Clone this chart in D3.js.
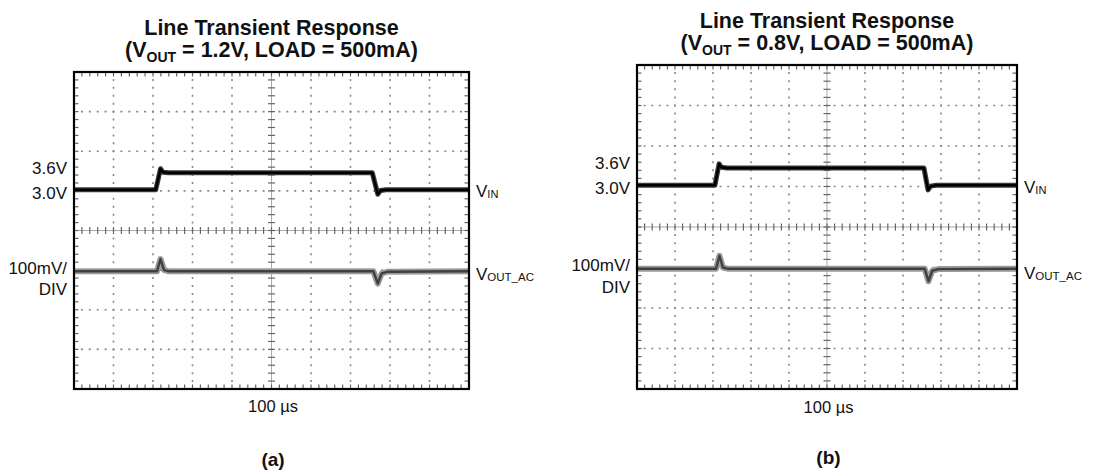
<!DOCTYPE html>
<html lang="en">
	<head>
		<meta charset="utf-8">
		<title>Line Transient Response</title>
		<script type="text/javascript" src="https://cdn.jsdelivr.net/npm/d3@7"></script>
		<style type="text/css">
			body { margin: 0; background: #fff; }
			text { font-family: "Liberation Sans", Arial, Helvetica, sans-serif; fill: #111; }
		</style>
	</head>
	<body>
		<script type="text/javascript">
			//Width and height
			var w = 1113;
			var h = 473;

			//Scope screen: 10 x 8 divisions, 100 us per division
			var timePerDiv = 100;
			var voutPerDiv = 100;       //mV per division
			var vinPerDiv = 1.4;        //V per division
			var vinBaseDiv = 1.03;      //3.0V sits this many divisions above centre
			var voutBaseDiv = -1.03;    //0mV sits this many divisions below centre

			//Panel (a) traces
			var vinTimeA = [0, 207, 219, 225, 240, 755, 769, 776, 790, 1000];
			var vinVoltsA = [3.0, 3.0, 3.74, 3.62, 3.6, 3.6, 2.84, 2.97, 3.0, 3.0];
			var voutTimeA = [0, 210, 219, 228, 240, 758, 769, 779, 795, 1000];
			var voutMvA = [0, 0, 31, 3, 0, 0, -31, -5, -1, 0];

			//Panel (b) traces
			var vinTimeB = [0, 205, 216, 222, 237, 755, 766, 773, 787, 1000];
			var vinVoltsB = [3.0, 3.0, 3.74, 3.62, 3.6, 3.6, 2.84, 2.97, 3.0, 3.0];
			var voutTimeB = [0, 208, 217, 226, 238, 757, 767, 777, 793, 1000];
			var voutMvB = [0, 0, 32, 3, 0, 0, -31, -5, -1, 0];

			//Text
			var titleLine1 = "Line Transient Response";
			var titleVoutA = "1.2V";
			var titleVoutB = "0.8V";
			var loadText = "500mA";
			var vinLevels = ["3.6V", "3.0V"];
			var voutScaleText = ["100mV/", "DIV"];
			var timeLabel = "100 \u00b5s";
			var panelTags = ["(a)", "(b)"];

			var panels = [
				{ left: 74, right: 469, top: 72, bottom: 389, titleY: 35,
				  vout: titleVoutA, tag: panelTags[0],
				  vinT: vinTimeA, vinV: vinVoltsA, voutT: voutTimeA, voutV: voutMvA,
				  levelY: [174, 198.5], scaleY: [274, 295], scaleX: 67,
				  vinLabelY: 196.5, voutLabelY: 280, timeY: 411.5, tagY: 466 },
				{ left: 637, right: 1017, top: 65, bottom: 389, titleY: 28,
				  vout: titleVoutB, tag: panelTags[1],
				  vinT: vinTimeB, vinV: vinVoltsB, voutT: voutTimeB, voutV: voutMvB,
				  levelY: [168.5, 194], scaleY: [270.5, 293], scaleX: 630,
				  vinLabelY: 193, voutLabelY: 279, timeY: 412.5, tagY: 464 }
			];

			//Create SVG element
			var svg = d3.select("body")
						.append("svg")
						.attr("width", w)
						.attr("height", h);

			svg.append("rect")
			   .attr("width", w)
			   .attr("height", h)
			   .style("fill", "#fff");

			panels.forEach(function(p) {
				var g = svg.append("g");

				var x = d3.scaleLinear()
						  .domain([0, 10 * timePerDiv])
						  .range([p.left, p.right]);
				var y = d3.scaleLinear()
						  .domain([-4, 4])
						  .range([p.bottom, p.top]);

				var cx = x(5 * timePerDiv);
				var cy = y(0);
				var stepX = x(timePerDiv / 5) - x(0);
				var stepY = y(0) - y(0.2);

				//Dotted grid lines
				var majorT = d3.range(1, 10).filter(function(d) { return d !== 5; });
				g.selectAll(".vgrid")
				 .data(majorT)
				 .enter()
				 .append("line")
				 .attr("x1", function(d) { return x(d * timePerDiv); })
				 .attr("x2", function(d) { return x(d * timePerDiv); })
				 .attr("y1", p.top - 1)
				 .attr("y2", p.bottom)
				 .style("stroke", "#888")
				 .style("stroke-width", 1.6)
				 .style("stroke-dasharray", "2," + (stepY - 2));

				var majorV = [-3, -2, -1, 1, 2, 3];
				g.selectAll(".hgrid")
				 .data(majorV)
				 .enter()
				 .append("line")
				 .attr("x1", p.left - 1)
				 .attr("x2", p.right)
				 .attr("y1", function(d) { return y(d); })
				 .attr("y2", function(d) { return y(d); })
				 .style("stroke", "#888")
				 .style("stroke-width", 1.6)
				 .style("stroke-dasharray", "2," + (stepX - 2));

				//Centre axes with minor ticks
				g.append("line")
				 .attr("x1", cx).attr("x2", cx)
				 .attr("y1", p.top).attr("y2", p.bottom)
				 .style("stroke", "#aaa")
				 .style("stroke-width", 1);
				g.append("line")
				 .attr("x1", p.left).attr("x2", p.right)
				 .attr("y1", cy).attr("y2", cy)
				 .style("stroke", "#aaa")
				 .style("stroke-width", 1);

				var minorT = d3.range(1, 50).map(function(d) { return d * timePerDiv / 5; });
				var minorV = d3.range(-19, 20).map(function(d) { return d / 5; });

				g.selectAll(".hctick")
				 .data(minorT)
				 .enter()
				 .append("line")
				 .attr("x1", function(d) { return x(d); })
				 .attr("x2", function(d) { return x(d); })
				 .attr("y1", cy - 3.5)
				 .attr("y2", cy + 3.5)
				 .style("stroke", "#666")
				 .style("stroke-width", 1.2);
				g.selectAll(".vctick")
				 .data(minorV)
				 .enter()
				 .append("line")
				 .attr("x1", cx - 3.5)
				 .attr("x2", cx + 3.5)
				 .attr("y1", function(d) { return y(d); })
				 .attr("y2", function(d) { return y(d); })
				 .style("stroke", "#666")
				 .style("stroke-width", 1.2);

				//Ticks along the frame edges
				[p.top, p.bottom].forEach(function(edge) {
					var dir = edge === p.top ? 1 : -1;
					g.selectAll(null)
					 .data(minorT)
					 .enter()
					 .append("line")
					 .attr("x1", function(d) { return x(d); })
					 .attr("x2", function(d) { return x(d); })
					 .attr("y1", edge)
					 .attr("y2", edge + dir * 4.5)
					 .style("stroke", "#666")
					 .style("stroke-width", 1.2);
				});
				[p.left, p.right].forEach(function(edge) {
					var dir = edge === p.left ? 1 : -1;
					g.selectAll(null)
					 .data(minorV)
					 .enter()
					 .append("line")
					 .attr("x1", edge)
					 .attr("x2", edge + dir * 4.5)
					 .attr("y1", function(d) { return y(d); })
					 .attr("y2", function(d) { return y(d); })
					 .style("stroke", "#666")
					 .style("stroke-width", 1.2);
				});

				//Traces
				var vinLine = d3.line()
								.x(function(d) { return x(d[0]); })
								.y(function(d) { return y(vinBaseDiv + (d[1] - 3.0) / vinPerDiv); });
				var voutLine = d3.line()
								 .x(function(d) { return x(d[0]); })
								 .y(function(d) { return y(voutBaseDiv + d[1] / voutPerDiv); });

				var vinData = d3.zip(p.vinT, p.vinV);
				var voutData = d3.zip(p.voutT, p.voutV);

				g.append("path")
				 .attr("d", voutLine(voutData))
				 .style("fill", "none")
				 .style("stroke", "#9a9a9a")
				 .style("stroke-width", 6)
				 .style("stroke-linejoin", "round");
				g.append("path")
				 .attr("d", voutLine(voutData))
				 .style("fill", "none")
				 .style("stroke", "#404040")
				 .style("stroke-width", 2.4)
				 .style("stroke-linejoin", "round");

				g.append("path")
				 .attr("d", vinLine(vinData))
				 .style("fill", "none")
				 .style("stroke", "#3a3a3a")
				 .style("stroke-width", 5)
				 .style("stroke-linejoin", "round");
				g.append("path")
				 .attr("d", vinLine(vinData))
				 .style("fill", "none")
				 .style("stroke", "#000")
				 .style("stroke-width", 2.5)
				 .style("stroke-linejoin", "round");

				//Frame
				g.append("rect")
				 .attr("x", p.left)
				 .attr("y", p.top)
				 .attr("width", p.right - p.left)
				 .attr("height", p.bottom - p.top)
				 .style("fill", "none")
				 .style("stroke", "#000")
				 .style("stroke-width", 2.2);

				//Title
				var tx = (p.left + p.right) / 2;
				g.append("text")
				 .attr("x", tx)
				 .attr("y", p.titleY)
				 .attr("text-anchor", "middle")
				 .style("font-size", "21.5px")
				 .style("font-weight", "bold")
				 .text(titleLine1);
				var t2 = g.append("text")
						  .attr("x", tx)
						  .attr("y", p.titleY + 22)
						  .attr("text-anchor", "middle")
						  .style("font-size", "21.5px")
						  .style("font-weight", "bold");
				t2.append("tspan").text("(V");
				t2.append("tspan").attr("dy", 5).style("font-size", "14px").text("OUT");
				t2.append("tspan").attr("dy", -5).text(" = " + p.vout + ", LOAD = " + loadText + ")");

				//Left labels
				vinLevels.forEach(function(s, i) {
					g.append("text")
					 .attr("x", p.scaleX)
					 .attr("y", p.levelY[i])
					 .attr("text-anchor", "end")
					 .style("font-size", "17px")
					 .text(s);
				});
				voutScaleText.forEach(function(s, i) {
					g.append("text")
					 .attr("x", p.scaleX)
					 .attr("y", p.scaleY[i])
					 .attr("text-anchor", "end")
					 .style("font-size", "17px")
					 .text(s);
				});

				//Right labels
				var lv = g.append("text")
						  .attr("x", p.right + 7)
						  .attr("y", p.vinLabelY)
						  .style("font-size", "17px");
				lv.append("tspan").text("V");
				lv.append("tspan").attr("dy", 1).style("font-size", "11px").text("IN");

				var lo = g.append("text")
						  .attr("x", p.right + 7)
						  .attr("y", p.voutLabelY)
						  .style("font-size", "17px");
				lo.append("tspan").text("V");
				lo.append("tspan").attr("dy", 1).style("font-size", "11.5px").text("OUT_AC");

				//Time base and panel tag
				g.append("text")
				 .attr("x", tx + 1.5)
				 .attr("y", p.timeY)
				 .attr("text-anchor", "middle")
				 .style("font-size", "16.5px")
				 .text(timeLabel);
				g.append("text")
				 .attr("x", tx + 1.5)
				 .attr("y", p.tagY)
				 .attr("text-anchor", "middle")
				 .style("font-size", "19px")
				 .style("font-weight", "bold")
				 .text(p.tag);
			});

		</script>
	</body>
</html>
